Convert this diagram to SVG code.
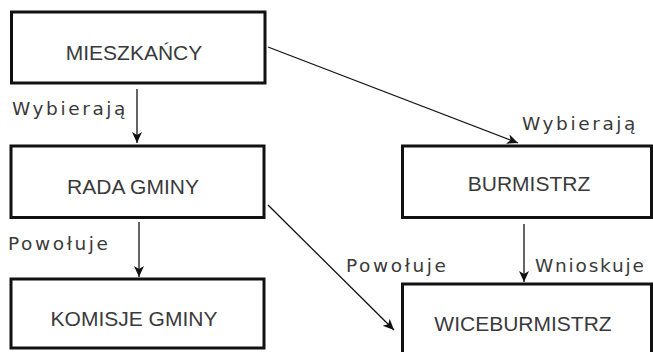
<svg xmlns="http://www.w3.org/2000/svg" width="653" height="352" viewBox="0 0 653 352">
<style>
.box{fill:#fff;stroke:#111;stroke-width:3}
.nt{font-family:"Liberation Sans",Arial,sans-serif;font-size:21px;fill:#3a3a3a;text-anchor:middle}
.lbl{font-family:"DejaVu Sans",Verdana,sans-serif;font-size:18.5px;letter-spacing:2.6px;fill:#3a3a3a}
.c{stroke:#111;fill:none;stroke-width:1.3}
</style>
<defs>
<marker id="ah" markerUnits="userSpaceOnUse" markerWidth="12" markerHeight="12" viewBox="0 0 12 12" refX="11" refY="6" orient="auto">
<path d="M0,1 L11,6 L0,11 L3,6 z" fill="#111"/>
</marker>
</defs>
<rect width="653" height="352" fill="#fff"/>
<g id="n-mieszkancy"><rect class="box" x="11.5" y="12" width="253.5" height="71"/><text class="nt" x="134" y="60">MIESZKAŃCY</text></g>
<g id="n-rada"><rect class="box" x="11" y="146" width="253" height="71.5"/><text class="nt" x="133" y="194">RADA GMINY</text></g>
<g id="n-komisje"><rect class="box" x="11" y="279" width="253" height="69"/><text class="nt" x="134" y="326">KOMISJE GMINY</text></g>
<g id="n-burmistrz"><rect class="box" x="402.5" y="146" width="249" height="71.5"/><text class="nt" x="529" y="191">BURMISTRZ</text></g>
<g id="n-wice"><rect class="box" x="402.5" y="284" width="249" height="80"/><text class="nt" x="523" y="331">WICEBURMISTRZ</text></g>
<g id="connectors">
<line class="c" x1="137" y1="89" x2="137" y2="143" marker-end="url(#ah)"/>
<line class="c" x1="268" y1="47" x2="518" y2="143" stroke-width="1.6" marker-end="url(#ah)"/>
<line class="c" x1="139" y1="222" x2="139" y2="277" marker-end="url(#ah)"/>
<line class="c" x1="268" y1="205" x2="394" y2="330" stroke-width="1" marker-end="url(#ah)"/>
<line class="c" x1="524" y1="224" x2="524" y2="282" marker-end="url(#ah)"/>
</g>
<g id="labels">
<text class="lbl" x="12" y="115">Wybierają</text>
<text class="lbl" x="522" y="130">Wybierają</text>
<text class="lbl" x="8" y="250">Powołuje</text>
<text class="lbl" x="346" y="272">Powołuje</text>
<text class="lbl" x="535" y="272" style="letter-spacing:1.8px">Wnioskuje</text>
</g>
</svg>
